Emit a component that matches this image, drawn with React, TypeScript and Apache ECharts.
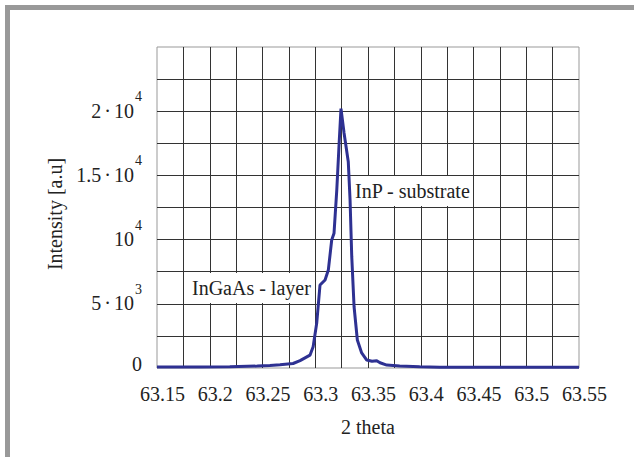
import React, { useEffect, useRef } from "react";
import * as echarts from "echarts";

const twoTheta = [
  63.15, 63.191, 63.219, 63.245, 63.257, 63.2666, 63.279, 63.2856, 63.295, 63.298,
  63.3014, 63.3045, 63.3093, 63.3124, 63.3156, 63.3178, 63.3204, 63.3228, 63.3244,
  63.3273, 63.3313, 63.333, 63.3346, 63.3368, 63.3399, 63.344, 63.3488, 63.3538,
  63.3583, 63.3614, 63.3678, 63.38, 63.399, 63.418, 63.475, 63.55,
];
const intensity = [
  80, 80, 100, 150, 200, 250, 350, 570, 1000, 1660,
  3500, 6460, 6850, 7630, 9970, 10500, 13860, 17760, 20200,
  18300, 16070, 13080, 8670, 4770, 2180, 1170, 620, 520,
  570, 410, 230, 150, 100, 60, 50, 50,
];
const yTickLabels: Record<number, string> = {
  0: "{z|0}",
  5000: "{b|5}{d|·}{b|10}{s|3}",
  10000: "{b|10}{s|4}",
  15000: "{b|1.5}{d|·}{b|10}{s|4}",
  20000: "{b|2}{d|·}{b|10}{s|4}",
};
const annotations = [
  { text: "InP - substrate", left: 352, top: 176 },
  { text: "InGaAs - layer", left: 189, top: 273 },
];

export default function App() {
  const ref = useRef<HTMLDivElement>(null);
  useEffect(() => {
    document.body.style.margin = "0";
    const chart = echarts.init(ref.current!, null, { renderer: "svg" });
    const font = "Liberation Serif";
    const ink = "#222222";
    chart.setOption({
      animation: false,
      backgroundColor: "#ffffff",
      textStyle: { fontFamily: font },
      grid: {
        left: 157,
        right: 55,
        top: 47,
        bottom: 89,
        show: true,
        borderColor: "#999999",
        borderWidth: 1,
      },
      xAxis: {
        type: "value",
        min: 63.15,
        max: 63.55,
        interval: 0.025,
        name: "2 theta",
        nameLocation: "middle",
        nameGap: 49,
        nameTextStyle: { fontFamily: font, fontSize: 20, color: ink },
        axisLine: { show: false },
        axisTick: { show: false },
        splitLine: {
          show: true,
          showMinLine: false,
          showMaxLine: false,
          lineStyle: { color: "#333", width: 1 },
        },
        axisLabel: {
          fontFamily: font,
          fontSize: 20,
          color: ink,
          margin: 16,
          padding: [0, 0, 0, 11],
          showMinLabel: true,
          showMaxLabel: true,
          formatter: (v: number) => {
            const k = Math.round((v - 63.15) / 0.025);
            if (k % 2 !== 0) return "";
            return String(parseFloat(v.toFixed(3)));
          },
        },
      },
      yAxis: {
        type: "value",
        min: 0,
        max: 25000,
        interval: 2500,
        name: "Intensity [a.u]",
        nameLocation: "middle",
        nameGap: 88,
        nameTextStyle: { fontFamily: font, fontSize: 20, color: ink, padding: [0, 13, 0, 0] },
        axisLine: { show: false },
        axisTick: { show: false },
        splitLine: {
          show: true,
          showMinLine: false,
          showMaxLine: false,
          lineStyle: { color: "#333", width: 1 },
        },
        axisLabel: {
          margin: 15,
          padding: [0, 0, 12, 0],
          formatter: (v: number) => yTickLabels[Math.round(v)] ?? "",
          rich: {
            b: { fontFamily: font, fontSize: 20, color: ink, lineHeight: 20, verticalAlign: "bottom" },
            d: { fontFamily: font, fontSize: 20, color: ink, lineHeight: 20, verticalAlign: "bottom", padding: [0, 3, 0, 3] },
            s: { fontFamily: font, fontSize: 14, color: ink, lineHeight: 31, verticalAlign: "top", padding: [0, 0, 0, 1] },
            z: { fontFamily: font, fontSize: 20, color: ink, lineHeight: 20, padding: [4, 0, 0, 0] },
          },
        },
      },
      series: [
        {
          type: "line",
          data: twoTheta.map((x, i) => [x, intensity[i]]),
          showSymbol: false,
          smooth: false,
          lineStyle: { color: "#2e3192", width: 3 },
          z: 5,
        },
      ],
      graphic: [
        { type: "rect", left: 5, top: 5, shape: { width: 629, height: 5 }, style: { fill: "#999999" } },
        { type: "rect", left: 5, top: 5, shape: { width: 5, height: 452 }, style: { fill: "#999999" } },
        ...annotations.map((a) => ({
          type: "text",
          left: a.left,
          top: a.top,
          z: 100,
          style: {
            text: a.text,
            fontFamily: font,
            fontSize: 20,
            fill: ink,
            backgroundColor: "#ffffff",
            padding: [5, 0, 5, 3],
          },
        })),
      ],
    });
    return () => chart.dispose();
  }, []);
  return <div ref={ref} style={{ width: 634, height: 457 }} />;
}
